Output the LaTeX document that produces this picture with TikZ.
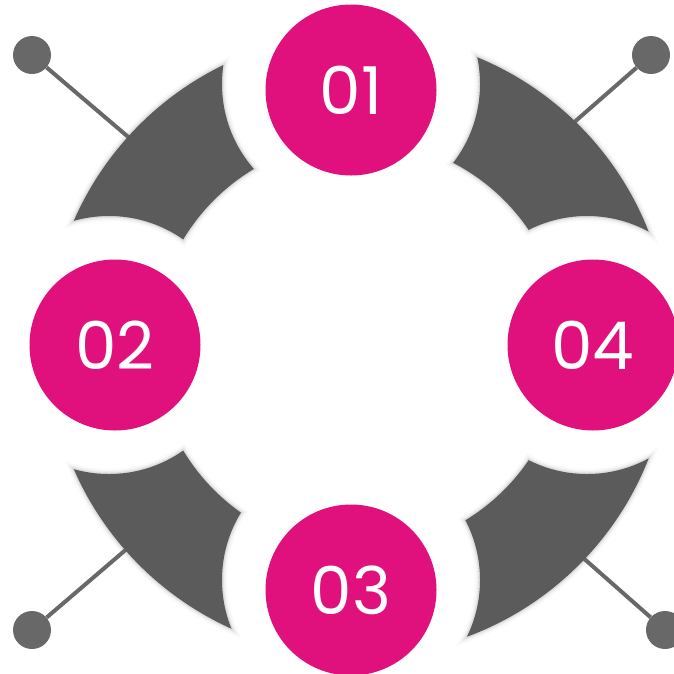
\documentclass[tikz,border=0pt]{standalone}
\usepackage{fontspec}
\setmainfont{Poppins}
\definecolor{badge}{RGB}{224,17,124}
\definecolor{petal}{RGB}{91,91,91}
\definecolor{pingray}{RGB}{104,104,104}
\begin{document}
\begin{tikzpicture}[x=1pt,y=-1pt,
    num/.style={circle,fill=badge,minimum size=171pt,inner sep=0pt,
      text=white,font=\fontsize{66}{66}\selectfont},
    pinball/.style={circle,fill=pingray,minimum size=38pt,inner sep=0pt},
    pinline/.style={pingray,line width=4pt}]
  \useasboundingbox (0,0) rectangle (674,673);
  \coordinate (c) at (359,345);
  % numbered badges
  \node[num] (n1) at (351,90) {01};
  \node[num] (n2) at (115,345) {02};
  \node[num] (n3) at (351,590) {03};
  \node[num] (n4) at (593,345) {04};
  % centres of the gaps round the badges
  \coordinate (k1) at (351,84);
  \coordinate (k2) at (109,345);
  \coordinate (k3) at (351,580);
  \coordinate (k4) at (587,345);
  % soft shadow of the ring pieces
  \foreach \d/\o in {5/0.025,3/0.045,1.5/0.07} {
    \begin{scope}[even odd rule]
      \clip (-20,-20) rectangle (700,700)
        (k1) circle (129-\d) (k2) circle (129-\d)
        (k3) circle (129-\d) (k4) circle (129-\d);
      \fill[black,opacity=\o,shift={(1,1)}]
        (c) circle (311+\d) (c) circle (205-\d);
    \end{scope}
  }
  % pins
  \node[pinball] (p1) at (32,55) {};
  \node[pinball] (p2) at (651,55) {};
  \node[pinball] (p3) at (32,630) {};
  \node[pinball] (p4) at (665,630) {};
  \coordinate (e1) at (133,141);
  \coordinate (e2) at (571,125);
  \coordinate (e3) at (129,547);
  \coordinate (e4) at (581,556);
  \draw[pinline] (p1) -- (e1);
  \draw[pinline] (p2) -- (e2);
  \draw[pinline] (p3) -- (e3);
  \draw[pinline] (p4) -- (e4);
  % ring pieces
  \begin{scope}[even odd rule]
    \clip (-20,-20) rectangle (700,700)
      (k1) circle (129) (k2) circle (129) (k3) circle (129) (k4) circle (129);
    \fill[petal] (c) circle (311) (c) circle (205);
  \end{scope}
\end{tikzpicture}
\end{document}
